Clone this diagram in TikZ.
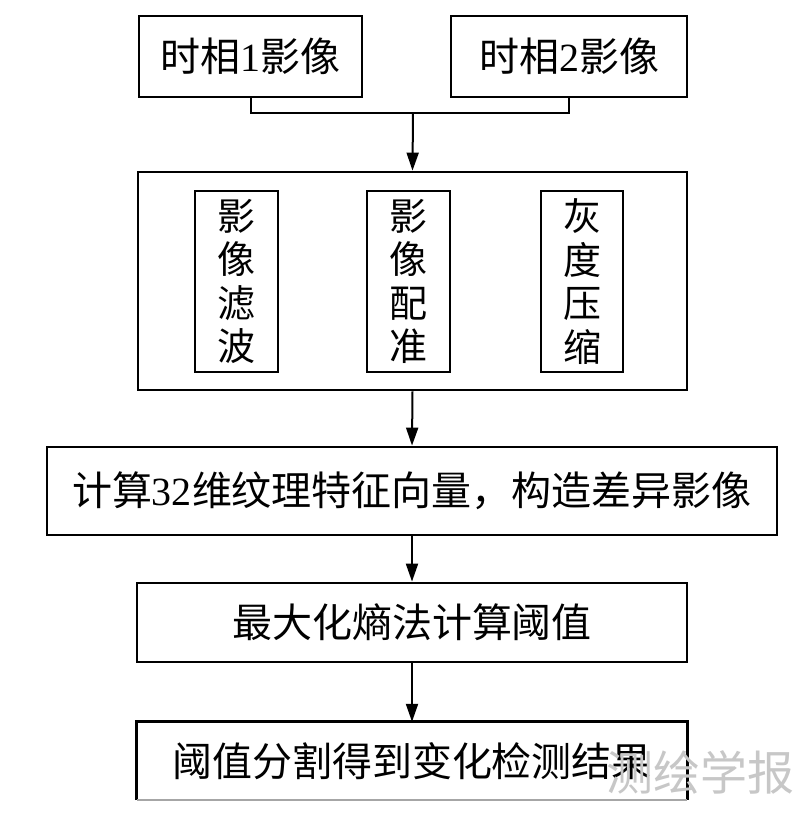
\documentclass[tikz,border=0pt]{standalone}
\usepackage{fontspec}
\setmainfont{Liberation Serif}
\newfontfamily\cjk{Noto Sans CJK SC}
\usetikzlibrary{arrows.meta}
\begin{document}
\begin{tikzpicture}[x=1pt,y=-1pt,
  box/.style={draw=black, line width=2.8pt, inner sep=0pt, align=center},
  conn/.style={draw=black, line width=2pt},
  arr/.style={conn, -{Triangle[length=18pt,width=12pt]}},
  bigtxt/.style={font=\fontsize{40}{44}\selectfont},
  vtxt/.style={font=\fontsize{38}{43.5}\selectfont\cjk}]
\useasboundingbox (0,0) rectangle (800,815);
\fill[white] (0,0) rectangle (800,815);
\node[box,bigtxt,minimum width=223pt,minimum height=81pt] (t1) at (250.5,56.5) {{\cjk 时相}1{\cjk 影像}};
\node[box,bigtxt,minimum width=236pt,minimum height=81pt] (t2) at (569,56.5) {{\cjk 时相}2{\cjk 影像}};
\coordinate (j) at (413,113);
\node[box,minimum width=549pt,minimum height=218pt] (pre) at (412.5,281) {};
\node[box,vtxt,minimum width=83pt,minimum height=181pt] (f) at (236.5,281.5) {影\\像\\滤\\波};
\node[box,vtxt,minimum width=83pt,minimum height=181pt] (r) at (408.5,281.5) {影\\像\\配\\准};
\node[box,vtxt,minimum width=82pt,minimum height=181pt] (g) at (582,281.5) {灰\\度\\压\\缩};
\node[box,bigtxt,minimum width=730pt,minimum height=88pt] (c) at (412,491) {{\cjk 计算}32{\cjk 维纹理特征向量，构造差异影像}};
\node[box,bigtxt,minimum width=550pt,minimum height=79pt] (m) at (412,622.5) {\cjk 最大化熵法计算阈值};
\node[inner sep=0pt,bigtxt,minimum width=550pt,minimum height=78pt] (s) at (412,761) {\cjk 阈值分割得到变化检测结果};
\draw[line width=2.8pt] (s.south west) -- (s.north west) -- (s.north east) -- (s.south east);
\draw[line width=1.5pt, black!35] (s.south west) -- (s.south east);
\node[text=black!22,font=\fontsize{47}{50}\selectfont\cjk,anchor=east] (wm) at (798,772) {测绘学报};
\draw[conn] (t1.south) |- (j) -| (t2.south);
\draw[arr] (j) -- (pre.north);
\draw[arr] (pre.south) -- (c.north);
\draw[arr] (c.south) -- (m.north);
\draw[arr] (m.south) -- (s.north);
\end{tikzpicture}
\end{document}
